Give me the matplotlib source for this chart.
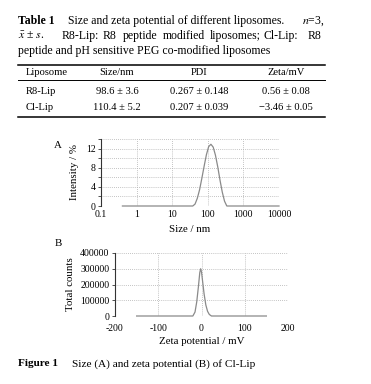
import matplotlib
matplotlib.use("Agg")
import matplotlib.pyplot as plt
from matplotlib.lines import Line2D
from matplotlib.ticker import FixedLocator, NullFormatter

plt.rcParams['font.family'] = ['Liberation Serif', 'DejaVu Serif']
plt.rcParams['mathtext.fontset'] = 'stix'

# ---------------- data ----------------
table_header = ["Liposome", "Size/nm", "PDI", "Zeta/mV"]
table_rows = [
    ["R8-Lip", "98.6 ± 3.6", "0.267 ± 0.148", "0.56 ± 0.08"],
    ["Cl-Lip", "110.4 ± 5.2", "0.207 ± 0.039", "\u22123.46 ± 0.05"],
]

size_nm = [0.4, 37.8, 43.8, 50.7, 58.8, 68.1, 78.8, 91.3, 105.7, 122.4,
           141.8, 164.2, 190.1, 220.2, 255.0, 295.3, 342.0, 10000]
intensity = [0, 0, 0.4, 1.6, 3.4, 5.8, 8.3, 10.7, 12.4, 12.9,
             12.3, 10.6, 8.2, 5.4, 2.9, 1.0, 0, 0]

zeta_mv = [-150, -20, -15, -11, -7, -4, -2, 0, 3, 6, 10, 14, 18, 23, 150]
counts = [0, 0, 25000, 90000, 190000, 275000, 300000, 280000, 210000,
          140000, 70000, 30000, 10000, 0, 0]

a_xticks = [0.1, 1, 10, 100, 1000, 10000]
a_xlabels = ["0.1", "1", "10", "100", "1000", "10000"]
a_yticks = [0, 4, 8, 12]
b_xticks = [-200, -100, 0, 100, 200]
b_yticks = [0, 100000, 200000, 300000, 400000]

# ---------------- figure ----------------
W, H = 371, 384
fig = plt.figure(figsize=(W / 100, H / 100), dpi=100)
fig.patch.set_facecolor('white')


def fx(x):
    return x / W


def fy(y):
    return 1 - y / H


def txt(x, y, s, **kw):
    kw.setdefault('va', 'center')
    kw.setdefault('ha', 'left')
    fig.text(fx(x), fy(y), s, **kw)


def hline(y, x0, x1, lw):
    fig.add_artist(Line2D([fx(x0), fx(x1)], [fy(y), fy(y)], color='black', lw=lw,
                          transform=fig.transFigure))


# Title of table
fs_t = 8.5
txt(18, 21, "Table 1", fontsize=fs_t, fontweight='bold')
txt(68, 21, "Size and zeta potential of different liposomes.", fontsize=fs_t)
txt(325, 21, r"$n$=3,", fontsize=fs_t, ha='right')
txt(18, 36, r"$\bar{x}$ ± $s$.", fontsize=fs_t)
line2_words = ["R8-Lip:", "R8", "peptide", "modified", "liposomes;", "Cl-Lip:", "R8"]
line2_x = [62, 103, 123, 163, 210, 263, 308]
for w, x in zip(line2_words, line2_x):
    txt(x, 36, w, fontsize=fs_t)
txt(18, 51, "peptide and pH sensitive PEG co-modified liposomes", fontsize=fs_t)

# Table
hline(65, 18, 325, 1.1)
hline(79.5, 18, 325, 0.7)
hline(117, 18, 325, 1.1)
fs_tab = 7.6
col_x = [26, 117, 199, 286]
col_ha = ['left', 'center', 'center', 'center']
for h, x, ha in zip(table_header, col_x, col_ha):
    txt(x, 72.5, h, fontsize=fs_tab, ha=ha)
for row, y in zip(table_rows, [91, 108]):
    for v, x, ha in zip(row, col_x, col_ha):
        txt(x, y, v, fontsize=fs_tab, ha=ha)

line_color = '#8a8a8a'
grid_kw = dict(color='#b0b0b0', lw=0.6, linestyle=(0, (1, 1.5)))


def style_axes(ax, xpad):
    for s in ['top', 'right', 'bottom']:
        ax.spines[s].set_visible(False)
    ax.spines['left'].set_color('#333333')
    ax.spines['left'].set_linewidth(0.8)
    ax.tick_params(axis='x', length=0, pad=xpad)
    ax.tick_params(axis='y', which='both', length=2, width=0.6, color='#333333', pad=2)
    ax.grid(True, which='both', **grid_kw)
    ax.set_axisbelow(True)


# Panel A
axA = fig.add_axes([fx(101), fy(206), fx(279) - fx(101), fy(139) - fy(206)])
axA.set_xscale('log')
axA.plot(size_nm, intensity, color=line_color, lw=0.9, clip_on=False)
axA.set_xlim(0.1, 10000)
axA.set_ylim(0, 14)
axA.xaxis.set_major_locator(FixedLocator(a_xticks))
axA.xaxis.set_minor_locator(FixedLocator([]))
axA.set_xticklabels(a_xlabels, fontsize=7)
axA.yaxis.set_major_locator(FixedLocator(a_yticks))
axA.yaxis.set_minor_locator(FixedLocator([2, 6, 10, 14]))
axA.yaxis.set_minor_formatter(NullFormatter())
axA.set_yticklabels([str(t) for t in a_yticks], fontsize=7)
style_axes(axA, 3)
axA.set_xlabel("Size / nm", fontsize=7.8, labelpad=4)
axA.set_ylabel("Intensity / %", fontsize=7.8, labelpad=5)
txt(54, 145, "A", fontsize=7.8)

# Panel B
axB = fig.add_axes([fx(115), fy(316), fx(288) - fx(115), fy(253) - fy(316)])
axB.plot(zeta_mv, counts, color=line_color, lw=0.9, clip_on=False)
axB.set_xlim(-200, 200)
axB.set_ylim(0, 400000)
axB.xaxis.set_major_locator(FixedLocator(b_xticks))
axB.set_xticklabels([str(t) for t in b_xticks], fontsize=7)
axB.yaxis.set_major_locator(FixedLocator(b_yticks))
axB.set_yticklabels([str(t) for t in b_yticks], fontsize=7)
style_axes(axB, 6)
axB.set_xlabel("Zeta potential / mV", fontsize=7.8, labelpad=3)
axB.set_ylabel("Total counts", fontsize=7.8, labelpad=4)
txt(55, 243, "B", fontsize=7.8)

# Caption
txt(18, 364, "Figure 1", fontsize=8.1, fontweight='bold')
txt(72, 364, "Size (A) and zeta potential (B) of Cl-Lip", fontsize=8.1)

fig.savefig("out.png", dpi=100)
